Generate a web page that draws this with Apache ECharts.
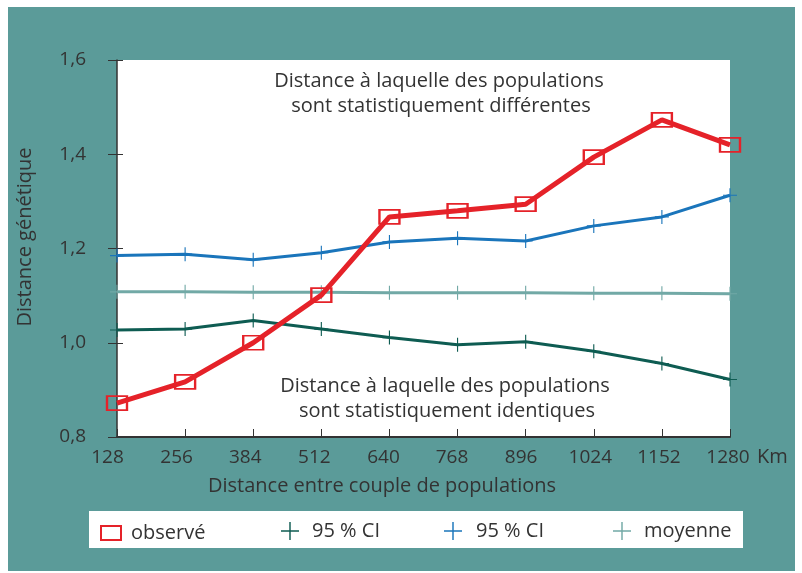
<!DOCTYPE html>
<html>
<head>
<meta charset="utf-8">
<script src="https://cdn.jsdelivr.net/npm/echarts@6/dist/echarts.min.js"></script>
<style>
html,body{margin:0;padding:0;background:#fff;}
#chart{width:802px;height:573px;}
</style>
</head>
<body>
<div id="chart"></div>
<script>
// ---- data ----
var categories = ['128','256','384','512','640','768','896','1024','1152','1280'];
var observe   = [0.872, 0.917, 1.000, 1.101, 1.267, 1.280, 1.294, 1.394, 1.473, 1.420];
var ciHigh    = [1.185, 1.188, 1.176, 1.191, 1.214, 1.222, 1.216, 1.248, 1.267, 1.313];
var ciLow     = [1.027, 1.029, 1.047, 1.029, 1.011, 0.996, 1.002, 0.982, 0.956, 0.922];
var moyenne   = [1.108, 1.108, 1.107, 1.107, 1.106, 1.106, 1.106, 1.105, 1.105, 1.104];
var yTicks    = {min: 0.8, max: 1.6, interval: 0.2};
var legendLabels = {obs: 'observé', low: '95 % CI', high: '95 % CI', moy: 'moyenne'};

var FONT = '"Open Sans", Lato, sans-serif';
var FS = 20, FS_TICK = 19;
var TXT = '#333';
var RED = '#e52229', BLUE = '#1a75bb', DGREEN = '#0e5c52', MOY = '#72a9a6', TEAL = '#5b9b99';
var PLUS = 'path://M0,9.2H20V10.8H0Z M9.2,0H10.8V20H9.2Z';

var chart = echarts.init(document.getElementById('chart'), null, {renderer: 'canvas'});

// labels in the reference sit slightly left of their ticks, less so toward the right
var xAxisData = categories.map(function (c, i) {
  var shift = 9.5 - 0.83 * i;
  return {value: c, textStyle: {padding: [0, Math.round(shift * 2), 0, 0]}};
});

function legendFor(name, left, icon, w, h, top, pad, itemStyle) {
  var d = {name: name, icon: icon};
  if (itemStyle) d.itemStyle = itemStyle;
  return {
    data: [d], left: left, top: top, padding: 0, itemWidth: w, itemHeight: h,
    selectedMode: false,
    formatter: function (n) { return legendLabels[n]; },
    textStyle: {fontFamily: FONT, fontSize: FS, color: TXT, padding: [0, 0, 0, pad]}
  };
}

function txt(s, x, y, align) {
  return {type: 'text', x: x, y: y,
    style: {text: s, font: FS + 'px ' + FONT, fill: TXT, textAlign: align || 'center', textVerticalAlign: 'middle'}};
}

var option = {
  backgroundColor: '#fff',
  animation: false,
  grid: {left: 117, right: 72, top: 60, bottom: 136, show: true, backgroundColor: '#fff', borderWidth: 0},
  xAxis: {
    type: 'category', data: xAxisData, boundaryGap: false,
    axisLine: {lineStyle: {color: '#333', width: 2}},
    axisTick: {inside: true, length: 8, lineStyle: {color: '#333', width: 1}},
    axisLabel: {fontFamily: FONT, fontSize: FS_TICK, color: TXT, margin: 11},
    splitLine: {show: false}
  },
  yAxis: [{
    type: 'value', min: yTicks.min, max: yTicks.max, interval: yTicks.interval,
    axisLine: {show: true, lineStyle: {color: '#333', width: 1.5}},
    axisTick: {show: true, length: 9, lineStyle: {color: '#333', width: 1}},
    axisLabel: {fontFamily: FONT, fontSize: FS_TICK, color: TXT, margin: 31, padding: [0, 0, 7, 0],
      formatter: function (v) { return v.toFixed(1).replace('.', ','); }},
    splitLine: {show: false}
  }, {
    type: 'value', position: 'left', min: yTicks.min, max: yTicks.max, interval: yTicks.interval,
    axisLine: {show: false},
    axisTick: {show: true, inside: true, length: 6, lineStyle: {color: '#333', width: 1}},
    axisLabel: {show: false},
    splitLine: {show: false}
  }],
  legend: [
    legendFor('obs', 100, 'rect', 20, 14, 523, 5, {color: 'transparent', borderColor: RED, borderWidth: 2}),
    legendFor('low', 281, PLUS, 20, 18, 521, 7),
    legendFor('high', 444, PLUS, 20, 18, 521, 8),
    legendFor('moy', 613, PLUS, 20, 18, 521, 7)
  ],
  graphic: [
    {type: 'rect', z: -100, shape: {x: 8, y: 7, width: 787, height: 564}, style: {fill: TEAL}},
    {type: 'rect', z: -50, shape: {x: 89, y: 511, width: 654, height: 37}, style: {fill: '#fff'}},
    {type: 'text', x: 25, y: 237, rotation: Math.PI / 2,
      style: {text: 'Distance génétique', font: FS + 'px ' + FONT, fill: TXT, textAlign: 'center', textVerticalAlign: 'middle'}},
    txt('Distance entre couple de populations', 382, 486),
    txt('Km', 757, 457, 'left'),
    txt('Distance à laquelle des populations', 439, 81),
    txt('sont statistiquement différentes', 441, 106),
    txt('Distance à laquelle des populations', 445, 386),
    txt('sont statistiquement identiques', 447, 411)
  ],
  series: [
    {name: 'moy', type: 'line', data: moyenne, symbol: PLUS, symbolSize: 14,
      lineStyle: {color: MOY, width: 3}, itemStyle: {color: MOY}, z: 2},
    {name: 'low', type: 'line', data: ciLow, symbol: PLUS, symbolSize: 14,
      lineStyle: {color: DGREEN, width: 3}, itemStyle: {color: DGREEN}, z: 3},
    {name: 'high', type: 'line', data: ciHigh, symbol: PLUS, symbolSize: 14,
      lineStyle: {color: BLUE, width: 3}, itemStyle: {color: BLUE}, z: 4},
    {name: 'obs', type: 'line', data: observe, symbol: 'rect', symbolSize: [20, 14],
      lineStyle: {color: RED, width: 5}, itemStyle: {color: 'transparent', borderColor: RED, borderWidth: 2}, z: 5}
  ]
};
chart.setOption(option);
</script>
</body>
</html>
